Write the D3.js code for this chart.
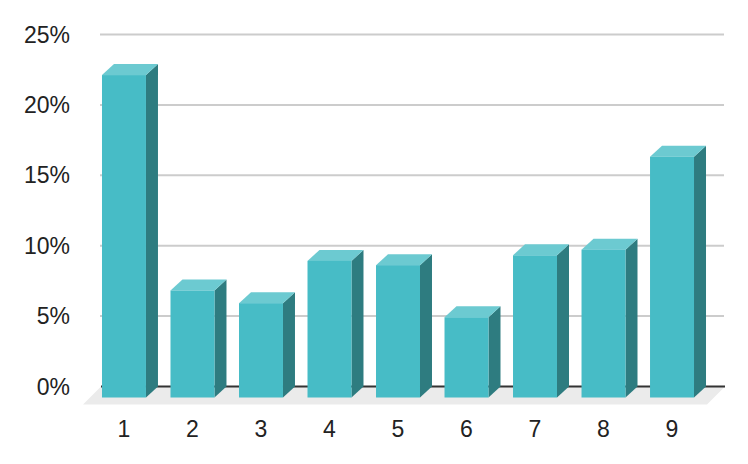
<!DOCTYPE html>
<html>
<head>
<meta charset="utf-8">
<script src="https://cdn.jsdelivr.net/npm/d3@7"></script>
<style>
  body { margin: 0; background: #fff; }
  svg { display: block; }
</style>
</head>
<body>
<div id="chart"></div>
<script>
// categories and values (values measured against the back gridlines)
const categories = ["1", "2", "3", "4", "5", "6", "7", "8", "9"];
const values = [22.9, 7.6, 6.7, 9.7, 9.4, 5.7, 10.1, 10.5, 17.1];
const yTicks = [0, 5, 10, 15, 20, 25];

(function () {
  const width = 748, height = 464;
  const depthX = 12, depthY = 11;     // bar depth offset
  const floorDepth = 18;              // floor depth offset
  const backLeft = 101, backRight = 725;

  const svg = d3.select("#chart").append("svg")
      .attr("width", width)
      .attr("height", height);

  // y scale on the back plane
  const y = d3.scaleLinear().domain([0, 25]).range([386.5, 34.5]);

  // x band on the front plane
  const x = d3.scaleBand()
      .domain(categories)
      .range([90, 706])
      .paddingInner(0.358)
      .paddingOuter(0.175);

  // gridlines
  svg.append("g")
      .selectAll("line")
      .data(yTicks.filter(d => d > 0))
      .join("line")
      .attr("x1", backLeft - 1)
      .attr("x2", backRight - 1)
      .attr("y1", d => y(d))
      .attr("y2", d => y(d))
      .attr("stroke", "#cccccc")
      .attr("stroke-width", 2);

  // floor
  const y0 = y(0);
  svg.append("path")
      .attr("d", `M${backLeft},${y0}L${backRight},${y0}L${backRight - floorDepth},${y0 + floorDepth}L${backLeft - floorDepth},${y0 + floorDepth}Z`)
      .attr("fill", "#ebebeb");

  // baseline
  svg.append("line")
      .attr("x1", backLeft)
      .attr("x2", backRight)
      .attr("y1", y0)
      .attr("y2", y0)
      .attr("stroke", "#333333")
      .attr("stroke-width", 2);

  // bars
  const bars = svg.append("g")
      .selectAll("g")
      .data(categories.map((c, i) => ({ cat: c, value: values[i] })))
      .join("g");

  const bw = x.bandwidth();

  // side face
  bars.append("path")
      .attr("d", d => {
        const x1 = x(d.cat) + bw;
        const top = y(d.value) + depthY, bot = y0 + depthY;
        return `M${x1},${top}L${x1 + depthX},${top - depthY}L${x1 + depthX},${bot - depthY}L${x1},${bot}Z`;
      })
      .attr("fill", "#2e7c80");

  // top face
  bars.append("path")
      .attr("d", d => {
        const x0 = x(d.cat);
        const top = y(d.value) + depthY;
        return `M${x0},${top}L${x0 + depthX},${top - depthY}L${x0 + bw + depthX},${top - depthY}L${x0 + bw},${top}Z`;
      })
      .attr("fill", "#6ccad1");

  // front face
  bars.append("rect")
      .attr("x", d => x(d.cat))
      .attr("y", d => y(d.value) + depthY)
      .attr("width", bw)
      .attr("height", d => y0 - y(d.value))
      .attr("fill", "#47bcc6");

  // y axis labels
  svg.append("g")
      .selectAll("text")
      .data(yTicks)
      .join("text")
      .attr("x", 70)
      .attr("y", d => y(d))
      .attr("dy", "0.35em")
      .attr("text-anchor", "end")
      .style("font-family", "Liberation Sans, Arial, sans-serif")
      .style("font-size", "23px")
      .style("fill", "#222")
      .text(d => d + "%");

  // x axis labels
  svg.append("g")
      .selectAll("text")
      .data(categories)
      .join("text")
      .attr("x", d => x(d) + bw / 2)
      .attr("y", 436.5)
      .attr("text-anchor", "middle")
      .style("font-family", "Liberation Sans, Arial, sans-serif")
      .style("font-size", "23px")
      .style("fill", "#222")
      .text(d => d);
})();
</script>
</body>
</html>
